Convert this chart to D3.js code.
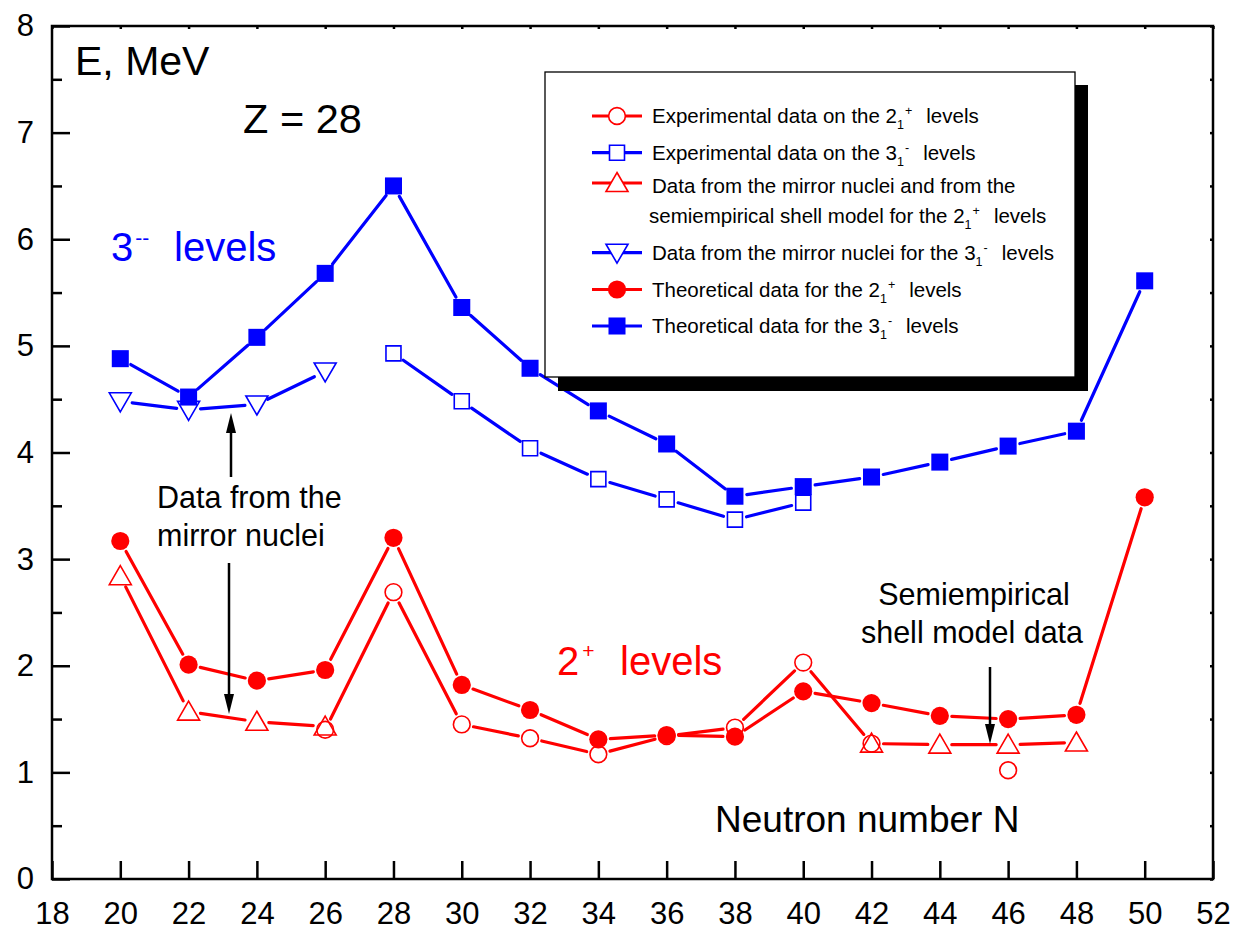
<!DOCTYPE html>
<html>
<head>
<meta charset="utf-8">
<script src="https://cdn.jsdelivr.net/npm/d3@7/dist/d3.min.js"></script>
<style>
  html, body { margin: 0; padding: 0; background: #fff; }
  svg { display: block; font-family: "Liberation Sans", Arial, Helvetica, sans-serif; }
</style>
</head>
<body>
<svg id="chart" width="1238" height="931"></svg>
<script>
// Neutron numbers on the x axis
const neutronN = [20, 22, 24, 26, 28, 30, 32, 34, 36, 38, 40, 42, 44, 46, 48, 50];

// Theoretical 3- levels (filled squares), MeV
const theo3 = [4.88, 4.52, 5.08, 5.68, 6.50, 5.36, 4.79, 4.39, 4.08, 3.59, 3.68, 3.77, 3.91, 4.06, 4.20, 5.61];
// Experimental 3- levels (open squares)
const exp3 = [null, null, null, null, 4.93, 4.48, 4.04, 3.75, 3.56, 3.37, 3.53, null, null, null, null, null];
// Mirror-nuclei 3- levels (open down triangles)
const mirror3 = [4.48, 4.40, 4.45, 4.76, null, null, null, null, null, null, null, null, null, null, null, null];

// Theoretical 2+ levels (filled circles)
const theo2 = [3.17, 2.01, 1.86, 1.96, 3.20, 1.82, 1.585, 1.31, 1.35, 1.335, 1.76, 1.65, 1.53, 1.50, 1.54, 3.58];
// Experimental 2+ levels (open circles); the N=46 point stands alone
const exp2 = [null, null, null, 1.40, 2.69, 1.45, 1.32, 1.17, 1.34, 1.42, 2.03, 1.27, null, null, null, null];
const exp2Single = [null, null, null, null, null, null, null, null, null, null, null, null, null, 1.02, null, null];
// Mirror nuclei / semiempirical shell model 2+ levels (open up triangles)
const mirror2 = [2.84, 1.57, 1.475, 1.43, null, null, null, null, null, null, null, 1.27, 1.26, 1.26, 1.28, null];

// Axis ticks
const xTicks = [18, 20, 22, 24, 26, 28, 30, 32, 34, 36, 38, 40, 42, 44, 46, 48, 50, 52];
const yTicks = [0, 1, 2, 3, 4, 5, 6, 7, 8];
const yMinorTicks = [0.5, 1.5, 2.5, 3.5, 4.5, 5.5, 6.5, 7.5];

// Legend entries
const legendSymbols = ["openCircle", "openSquare", "upTriangle", "downTriangle", "filledCircle", "filledSquare"];
const legendColors = ["#ff0000", "#0000ff", "#ff0000", "#0000ff", "#ff0000", "#0000ff"];
const legendPrefix = ["Experimental data on the 2", "Experimental data on the 3", "semiempirical shell model for the 2",
                      "Data from the mirror nuclei for the 3", "Theoretical data for the 2", "Theoretical data for the 3"];
const legendSup = ["+", "-", "+", "-", "+", "-"];
const legendExtraLine = "Data from the mirror nuclei and from the";

const RED = "#ff0000", BLUE = "#0000ff";
const svg = d3.select("#chart");

const x = d3.scaleLinear().domain([18, 52]).range([52, 1213]);
const y = d3.scaleLinear().domain([0, 8]).range([879, 26]);

// ---- axes ----
const axisFont = 31;
const gx = svg.append("g").attr("transform", `translate(0,${y(0)})`)
  .call(d3.axisBottom(x).tickValues(xTicks).tickSize(-18).tickPadding(23).tickFormat(d3.format("d")));
const gy = svg.append("g").attr("transform", `translate(${x(18)},0)`)
  .call(d3.axisLeft(y).tickValues(yTicks).tickSize(-18).tickPadding(18).tickFormat(d3.format("d")));
const gyMinor = svg.append("g").attr("transform", `translate(${x(18)},0)`)
  .call(d3.axisLeft(y).tickValues(yMinorTicks).tickSize(-10).tickFormat(""));
const gTop = svg.append("g").attr("transform", `translate(0,${y(8)})`)
  .call(d3.axisTop(x).tickValues(xTicks).tickSize(-3).tickFormat(""));
const gRight = svg.append("g").attr("transform", `translate(${x(52)},0)`)
  .call(d3.axisRight(y).tickValues(yMinorTicks.concat(yTicks)).tickSize(-3).tickFormat(""));

[gx, gy, gyMinor, gTop, gRight].forEach(g => {
  g.select(".domain").remove();
  g.selectAll(".tick line").attr("stroke", "#000").attr("stroke-width", 2.5);
  g.selectAll(".tick text").attr("fill", "#000").attr("font-size", axisFont)
    .attr("font-family", "'Liberation Sans', Arial, sans-serif");
});

// frame
svg.append("rect")
  .attr("x", x(18)).attr("y", y(8))
  .attr("width", x(52) - x(18)).attr("height", y(0) - y(8))
  .attr("fill", "none").attr("stroke", "#000").attr("stroke-width", 2.5);

// ---- series drawing helpers ----
function pts(values) {
  return neutronN.map((n, i) => values[i] == null ? null : [x(n), y(values[i])]);
}

// line segments between consecutive points, stopping short of each marker
function drawSegments(values, color, gap) {
  const p = pts(values);
  const segs = [];
  for (let i = 0; i < p.length - 1; i++) {
    if (p[i] && p[i + 1]) segs.push([p[i], p[i + 1]]);
  }
  svg.append("g").selectAll("line").data(segs).join("line")
    .each(function (s) {
      const [a, b] = s;
      const dx = b[0] - a[0], dy = b[1] - a[1];
      const len = Math.hypot(dx, dy);
      const ux = dx / len, uy = dy / len;
      d3.select(this)
        .attr("x1", a[0] + ux * gap).attr("y1", a[1] + uy * gap)
        .attr("x2", b[0] - ux * gap).attr("y2", b[1] - uy * gap);
    })
    .attr("stroke", color).attr("stroke-width", 3.2).attr("stroke-linecap", "round");
}

function markerPath(type) {
  switch (type) {
    case "filledSquare": return d3.symbol(d3.symbolSquare, 290)();
    case "openSquare": return d3.symbol(d3.symbolSquare, 225)();
    case "filledCircle": return d3.symbol(d3.symbolCircle, 260)();
    case "openCircle": return d3.symbol(d3.symbolCircle, 220)();
    case "upTriangle": return "M0,-10.5L11,8.5L-11,8.5Z";
    case "downTriangle": return "M0,10.5L11,-8.5L-11,-8.5Z";
  }
}

function drawMarker(g, type, color, cx, cy, openFill) {
  const filled = type.startsWith("filled");
  const isTri = type.endsWith("Triangle");
  return g.append("path")
    .attr("d", markerPath(type))
    .attr("transform", `translate(${cx},${cy})`)
    .attr("fill", filled ? color : (openFill || (isTri ? "none" : "#fff")))
    .attr("stroke", filled ? "none" : color)
    .attr("stroke-width", filled ? 0 : 1.6);
}

function drawMarkers(values, type, color) {
  const g = svg.append("g");
  pts(values).forEach(p => { if (p) drawMarker(g, type, color, p[0], p[1]); });
}

// lines
drawSegments(theo3, BLUE, 12);
drawSegments(exp3, BLUE, 12);
drawSegments(mirror3, BLUE, 12);
drawSegments(theo2, RED, 12);
drawSegments(exp2, RED, 12);
drawSegments(mirror2, RED, 12);

// markers: open first, filled on top
drawMarkers(exp2, "openCircle", RED);
drawMarkers(exp2Single, "openCircle", RED);
drawMarkers(mirror2, "upTriangle", RED);
drawMarkers(exp3, "openSquare", BLUE);
drawMarkers(mirror3, "downTriangle", BLUE);
drawMarkers(theo2, "filledCircle", RED);
drawMarkers(theo3, "filledSquare", BLUE);

// ---- annotations ----
svg.append("text").attr("x", 75).attr("y", 75).attr("font-size", 41).attr("fill", "#000").text("E, MeV");
svg.append("text").attr("x", 243).attr("y", 133).attr("font-size", 41.5).attr("fill", "#000").text("Z = 28");

const t3 = svg.append("text").attr("y", 261).attr("font-size", 40).attr("fill", BLUE);
t3.append("tspan").attr("x", 111).text("3");
t3.append("tspan").attr("font-size", 21).attr("dy", -16).attr("dx", 2).text("--");
t3.append("tspan").attr("dy", 16).attr("x", 174).text("levels");

const t2 = svg.append("text").attr("y", 675).attr("font-size", 40).attr("fill", RED);
t2.append("tspan").attr("x", 557).text("2");
t2.append("tspan").attr("font-size", 21).attr("dy", -17).attr("dx", 3).text("+");
t2.append("tspan").attr("dy", 17).attr("x", 620).text("levels");

svg.append("text").attr("x", 715).attr("y", 832).attr("font-size", 37).attr("fill", "#000").text("Neutron number N");

const noteMirror = svg.append("text").attr("font-size", 30.5).attr("fill", "#000");
noteMirror.append("tspan").attr("x", 157).attr("y", 508).text("Data from the");
noteMirror.append("tspan").attr("x", 157).attr("y", 546).text("mirror nuclei");

const noteShell = svg.append("text").attr("font-size", 30.5).attr("fill", "#000").attr("text-anchor", "middle");
noteShell.append("tspan").attr("x", 974).attr("y", 605).text("Semiempirical");
noteShell.append("tspan").attr("x", 972).attr("y", 643).text("shell model data");

function arrow(x0, yStart, yTip) {
  const dir = yTip > yStart ? 1 : -1;
  const head = 20, half = 5;
  svg.append("line").attr("x1", x0).attr("y1", yStart).attr("x2", x0).attr("y2", yTip - dir * head)
    .attr("stroke", "#000").attr("stroke-width", 2.5);
  svg.append("path")
    .attr("d", `M${x0},${yTip}L${x0 - half},${yTip - dir * head}L${x0 + half},${yTip - dir * head}Z`)
    .attr("fill", "#000");
}
arrow(231, 477, 413);
arrow(229, 563, 714);
arrow(990, 667, 744);

// ---- legend ----
const lg = svg.append("g");
lg.append("rect").attr("x", 558).attr("y", 85).attr("width", 530).attr("height", 306).attr("fill", "#000");
lg.append("rect").attr("x", 545).attr("y", 72).attr("width", 530).attr("height", 305)
  .attr("fill", "#fff").attr("stroke", "#000").attr("stroke-width", 1.3);

const rowCenter = [116, 152.7, 183, 252.7, 289.5, 326];
const rowBase = [123.3, 160, 222.7, 260, 296.7, 333.3];
const legFont = 20.5;

lg.append("text").attr("x", 652).attr("y", 192.7).attr("font-size", legFont).attr("fill", "#000").text(legendExtraLine);

legendSymbols.forEach((sym, i) => {
  const c = legendColors[i];
  lg.append("line").attr("x1", 592).attr("x2", 642).attr("y1", rowCenter[i]).attr("y2", rowCenter[i])
    .attr("stroke", c).attr("stroke-width", 3.2);
  drawMarker(lg, sym, c, 617, rowCenter[i], "#fff");
  const tx = i === 2 ? 649 : 652;
  const t = lg.append("text").attr("x", tx).attr("y", rowBase[i]).attr("font-size", legFont).attr("fill", "#000");
  t.append("tspan").text(legendPrefix[i]);
  t.append("tspan").attr("font-size", 12.5).attr("dy", 6).text("1");
  t.append("tspan").attr("font-size", 12.5).attr("dy", -14).attr("dx", 1).text(legendSup[i]);
  t.append("tspan").attr("dy", 8).attr("dx", 14).text("levels");
});
</script>
</body>
</html>
